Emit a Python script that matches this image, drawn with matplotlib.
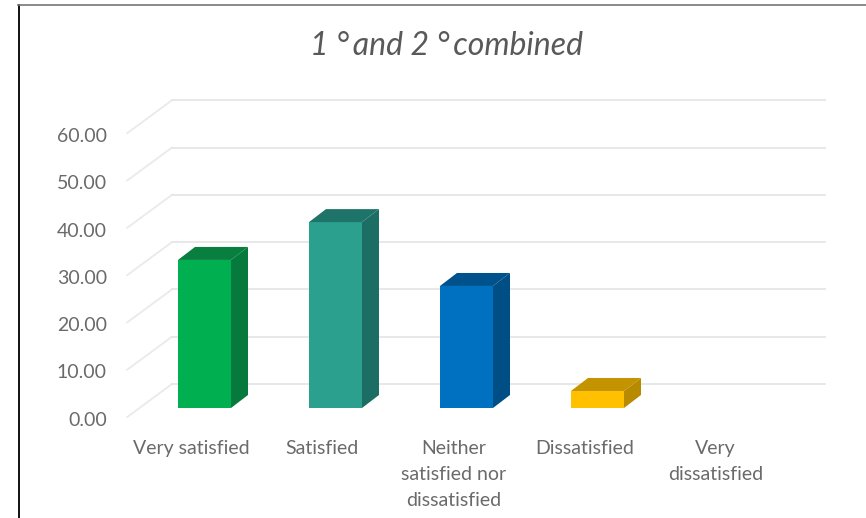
import matplotlib
matplotlib.use("Agg")
import matplotlib.pyplot as plt
from matplotlib.lines import Line2D
from matplotlib.patches import Polygon

plt.rcParams['font.family'] = ['Lato', 'DejaVu Sans']

categories = ['Very satisfied', 'Satisfied', 'Neither\nsatisfied nor\ndissatisfied',
              'Dissatisfied', 'Very\ndissatisfied']
values = [31.3, 39.3, 25.8, 3.6, 0.0]
front_colors = ['#00B050', '#2BA08F', '#0070C0', '#FFC000', '#A5A5A5']
side_colors = ['#067A3C', '#1C6E64', '#004E86', '#B88A00', '#737373']
top_colors = ['#087F3F', '#1F746A', '#00528D', '#C49300', '#7A7A7A']
y_ticks = [0, 10, 20, 30, 40, 50, 60]

W, H = 866, 518
X0, X_STEP = 204.5, 131.0   # pixel centre of first bar, spacing of categories
Y0, Y_UNIT = 408.0, 4.73    # pixel row of value 0, pixels per unit

BAR_W = 53 / X_STEP
DEPTH_X, DEPTH_Y = 17 / X_STEP, 13 / Y_UNIT
GRID_FRONT_X, GRID_BACK_X, GRID_END_X = -0.59, -0.248, 4.737
GRID_FRONT_Y, GRID_BACK_Y = -1.9, 5.07
TEXT_COLOR = '#6A6A6A'

fig = plt.figure(figsize=(W / 100, H / 100), dpi=100)
ax = fig.add_axes([0, 0, 1, 1])
ax.set_xlim(-X0 / X_STEP, (W - X0) / X_STEP)
ax.set_ylim((Y0 - H) / Y_UNIT, Y0 / Y_UNIT)
ax.axis('off')

# wall and floor gridlines, with the value labels at their front ends
for v in y_ticks:
    ax.plot([GRID_FRONT_X, GRID_BACK_X],
            [v + GRID_FRONT_Y, v + GRID_BACK_Y],
            color='#EAEAEA', lw=1.3, zorder=1)
    ax.plot([GRID_BACK_X, GRID_END_X],
            [v + GRID_BACK_Y, v + GRID_BACK_Y],
            color='#E6E6E6', lw=1.3, zorder=1)
    ax.text(-0.745, v - 2.6, f'{v:.2f}', ha='right', va='center',
            fontsize=14, color=TEXT_COLOR)

# 3D looking columns: front from ax.bar, then side and top faces
for i, (v, fc, sc, tc) in enumerate(zip(values, front_colors, side_colors, top_colors)):
    if v <= 0:
        continue
    left, right = i - BAR_W / 2, i + BAR_W / 2
    ax.bar(i, v, width=BAR_W, color=fc, zorder=3)
    ax.add_patch(Polygon([(right, 0), (right + DEPTH_X, DEPTH_Y),
                          (right + DEPTH_X, v + DEPTH_Y), (right, v)],
                         closed=True, facecolor=sc, edgecolor='none', zorder=3))
    ax.add_patch(Polygon([(left, v), (left + DEPTH_X, v + DEPTH_Y),
                          (right + DEPTH_X, v + DEPTH_Y), (right, v)],
                         closed=True, facecolor=tc, edgecolor='none', zorder=3))

# category labels sit a little left of the column centres
for i, label in enumerate(categories):
    ax.text(i - 0.1, -6.8, label, ha='center', va='top', fontsize=14,
            color=TEXT_COLOR, linespacing=1.62)

fig.text(447 / W, 1 - 46 / H, '1 °\u2009and 2 °\u2009combined', ha='center', va='center',
         fontsize=23, style='italic', color='#595959')

# outer frame, open at the right and bottom edges
fig.add_artist(Line2D([18.5 / W, 18.5 / W], [0, 1 - 5 / H], color='#111111', lw=1.4))
fig.add_artist(Line2D([18 / W, 1], [1 - 5 / H, 1 - 5 / H], color='#777777', lw=1.2))

fig.savefig('out.png', dpi=100)
plt.close(fig)
